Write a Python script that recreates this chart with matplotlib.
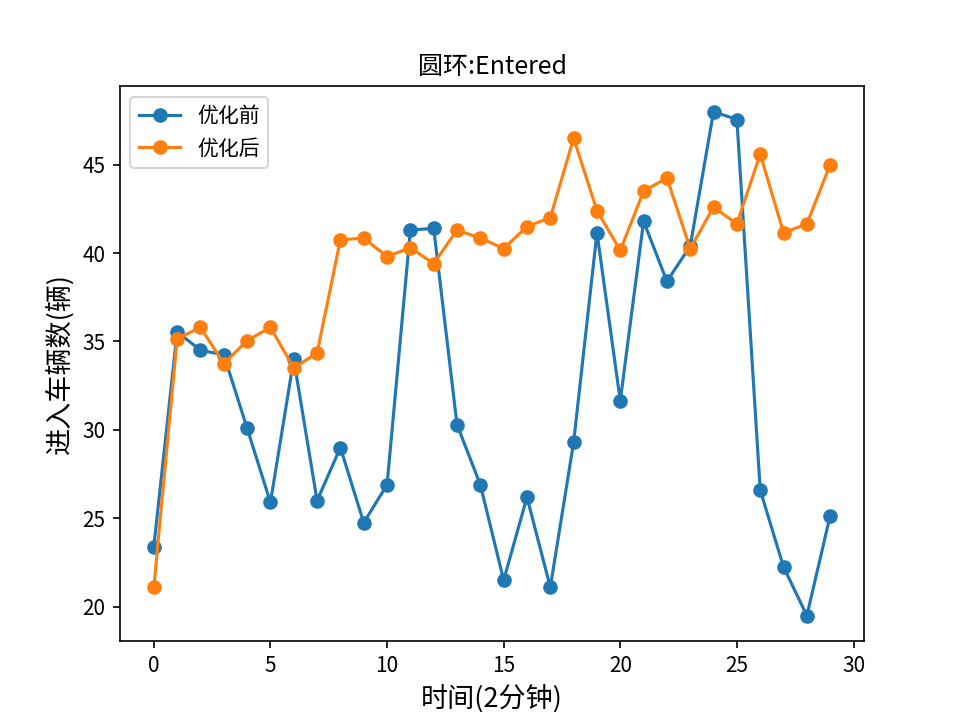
import matplotlib
matplotlib.use("Agg")
import matplotlib.pyplot as plt

plt.rcParams['font.family'] = ['Noto Sans CJK SC', 'DejaVu Sans']
plt.rcParams['axes.unicode_minus'] = False

t = list(range(30))
before = [23.4, 35.55, 34.5, 34.25, 30.1, 25.9, 34.0, 26.0, 29.0, 24.75,
          26.9, 41.3, 41.4, 30.3, 26.9, 21.5, 26.2, 21.1, 29.3, 41.15,
          31.65, 41.8, 38.4, 40.4, 48.0, 47.55, 26.6, 22.25, 19.5, 25.15]
after = [21.1, 35.15, 35.8, 33.75, 35.05, 35.8, 33.5, 34.35, 40.75, 40.85,
         39.8, 40.3, 39.4, 41.3, 40.85, 40.25, 41.5, 42.0, 46.5, 42.4,
         40.15, 43.5, 44.25, 40.25, 42.6, 41.65, 45.6, 41.15, 41.65, 45.0]

fig, ax = plt.subplots(figsize=(6.4, 4.8), dpi=150)
ax.plot(t, before, marker="o", label="优化前")
ax.plot(t, after, marker="o", label="优化后")
ax.set_title("圆环:Entered")
ax.set_xlabel("时间(2分钟)", fontsize=13)
ax.set_ylabel("进入车辆数(辆)", fontsize=13)
ax.legend(loc="upper left")
fig.savefig("out.png", dpi=150)
